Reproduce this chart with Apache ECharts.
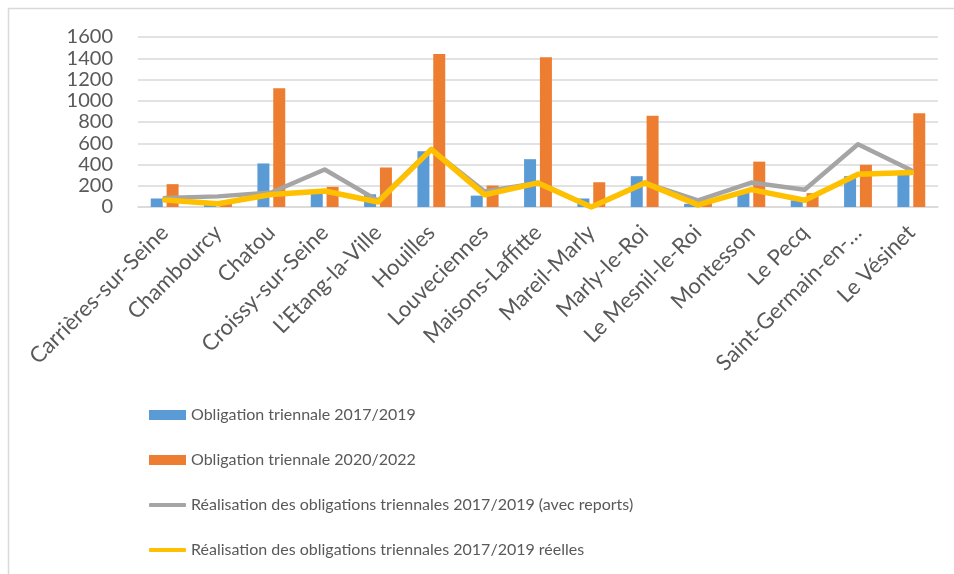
<!DOCTYPE html>
<html>
<head>
<meta charset="utf-8">
<script src="https://cdn.jsdelivr.net/npm/echarts@6/dist/echarts.min.js"></script>
<style>
  html, body { margin: 0; padding: 0; background: #fff; }
  #chart { width: 954px; height: 574px; }
</style>
</head>
<body>
<div id="chart"></div>
<script>
// Communes of the territory
const communes = [
  'Carrières-sur-Seine', 'Chambourcy', 'Chatou', 'Croissy-sur-Seine',
  'L\u2019Etang-la-Ville', 'Houilles', 'Louveciennes', 'Maisons-Laffitte',
  'Mareil-Marly', 'Marly-le-Roi', 'Le Mesnil-le-Roi', 'Montesson',
  'Le Pecq', 'Saint-Germain-en-Laye', 'Le Vésinet'
];

// Triennial obligations (number of dwellings)
const obligation2017 = [80, 20, 410, 125, 120, 525, 107, 450, 80, 290, 30, 150, 63, 290, 310];
const obligation2020 = [215, 35, 1118, 190, 372, 1441, 202, 1410, 233, 859, 65, 427, 130, 397, 882];

// Achievements over 2017/2019
const realisationAvecReports = [85, 100, 136, 353, 60, 542, 145, 227, 0, 227, 63, 230, 162, 590, 346];
const realisationReelles = [65, 30, 117, 151, 47, 542, 115, 227, 0, 227, 20, 164, 63, 309, 325];

const yTicks = { min: 0, max: 1600, interval: 200 };

const seriesNames = [
  'Obligation triennale 2017/2019',
  'Obligation triennale 2020/2022',
  'Réalisation des obligations triennales 2017/2019 (avec reports)',
  'Réalisation des obligations triennales 2017/2019 réelles'
];

const FONT = 'Lato, "Noto Sans", sans-serif';
const TEXT = '#595959';
const GRID = '#d9d9d9';

const legendBase = {
  orient: 'vertical',
  left: 144,
  itemWidth: 37,
  itemGap: 29,
  itemTextGap: 5,
  textStyle: { fontFamily: FONT, fontSize: 16, color: TEXT }
};

const chart = echarts.init(document.getElementById('chart'), null, { renderer: 'canvas' });

chart.setOption({
  backgroundColor: '#ffffff',
  animation: false,
  textStyle: { fontFamily: FONT },
  graphic: [{
    type: 'rect',
    shape: { x: 8.5, y: 8.5, width: 1200, height: 1200 },
    style: { fill: 'none', stroke: GRID, lineWidth: 1.5 },
    silent: true
  }],
  grid: { left: 138, right: 16, top: 37, bottom: 367, containLabel: false },
  legend: [
    Object.assign({}, legendBase, {
      top: 402,
      itemHeight: 10,
      icon: 'rect',
      data: [seriesNames[0], seriesNames[1]]
    }),
    Object.assign({}, legendBase, {
      top: 492,
      itemHeight: 4,
      icon: 'roundRect',
      data: [seriesNames[2], seriesNames[3]]
    })
  ],
  xAxis: {
    type: 'category',
    data: communes,
    axisLine: { lineStyle: { color: GRID, width: 1.5 } },
    axisTick: { show: false },
    axisLabel: {
      interval: 0,
      rotate: 45,
      margin: 22,
      fontFamily: FONT,
      fontSize: 22,
      color: TEXT,
      formatter: v => v.length > 20 ? v.slice(0, 17) + '\u2026' : v
    }
  },
  yAxis: {
    type: 'value',
    min: yTicks.min,
    max: yTicks.max,
    interval: yTicks.interval,
    axisLine: { show: false },
    axisTick: { show: false },
    axisLabel: {
      margin: 25, fontFamily: FONT, fontSize: 20, color: TEXT,
      formatter: v => String(v)
    },
    splitLine: { lineStyle: { color: GRID, width: 1.5 } }
  },
  series: [
    {
      name: seriesNames[0],
      type: 'bar',
      data: obligation2017,
      barWidth: 12,
      barGap: '32%',
      itemStyle: { color: '#5B9BD5' },
      z: 2
    },
    {
      name: seriesNames[1],
      type: 'bar',
      data: obligation2020,
      barWidth: 12,
      barGap: '32%',
      itemStyle: { color: '#ED7D31' },
      z: 2
    },
    {
      name: seriesNames[2],
      type: 'line',
      data: realisationAvecReports,
      symbol: 'none',
      showSymbol: false,
      lineStyle: { color: '#A5A5A5', width: 4.5, join: 'round', cap: 'round' },
      itemStyle: { color: '#A5A5A5' },
      z: 3
    },
    {
      name: seriesNames[3],
      type: 'line',
      data: realisationReelles,
      symbol: 'none',
      showSymbol: false,
      lineStyle: { color: '#FFC000', width: 5.5, join: 'round', cap: 'round' },
      itemStyle: { color: '#FFC000' },
      z: 4
    }
  ]
});
</script>
</body>
</html>
